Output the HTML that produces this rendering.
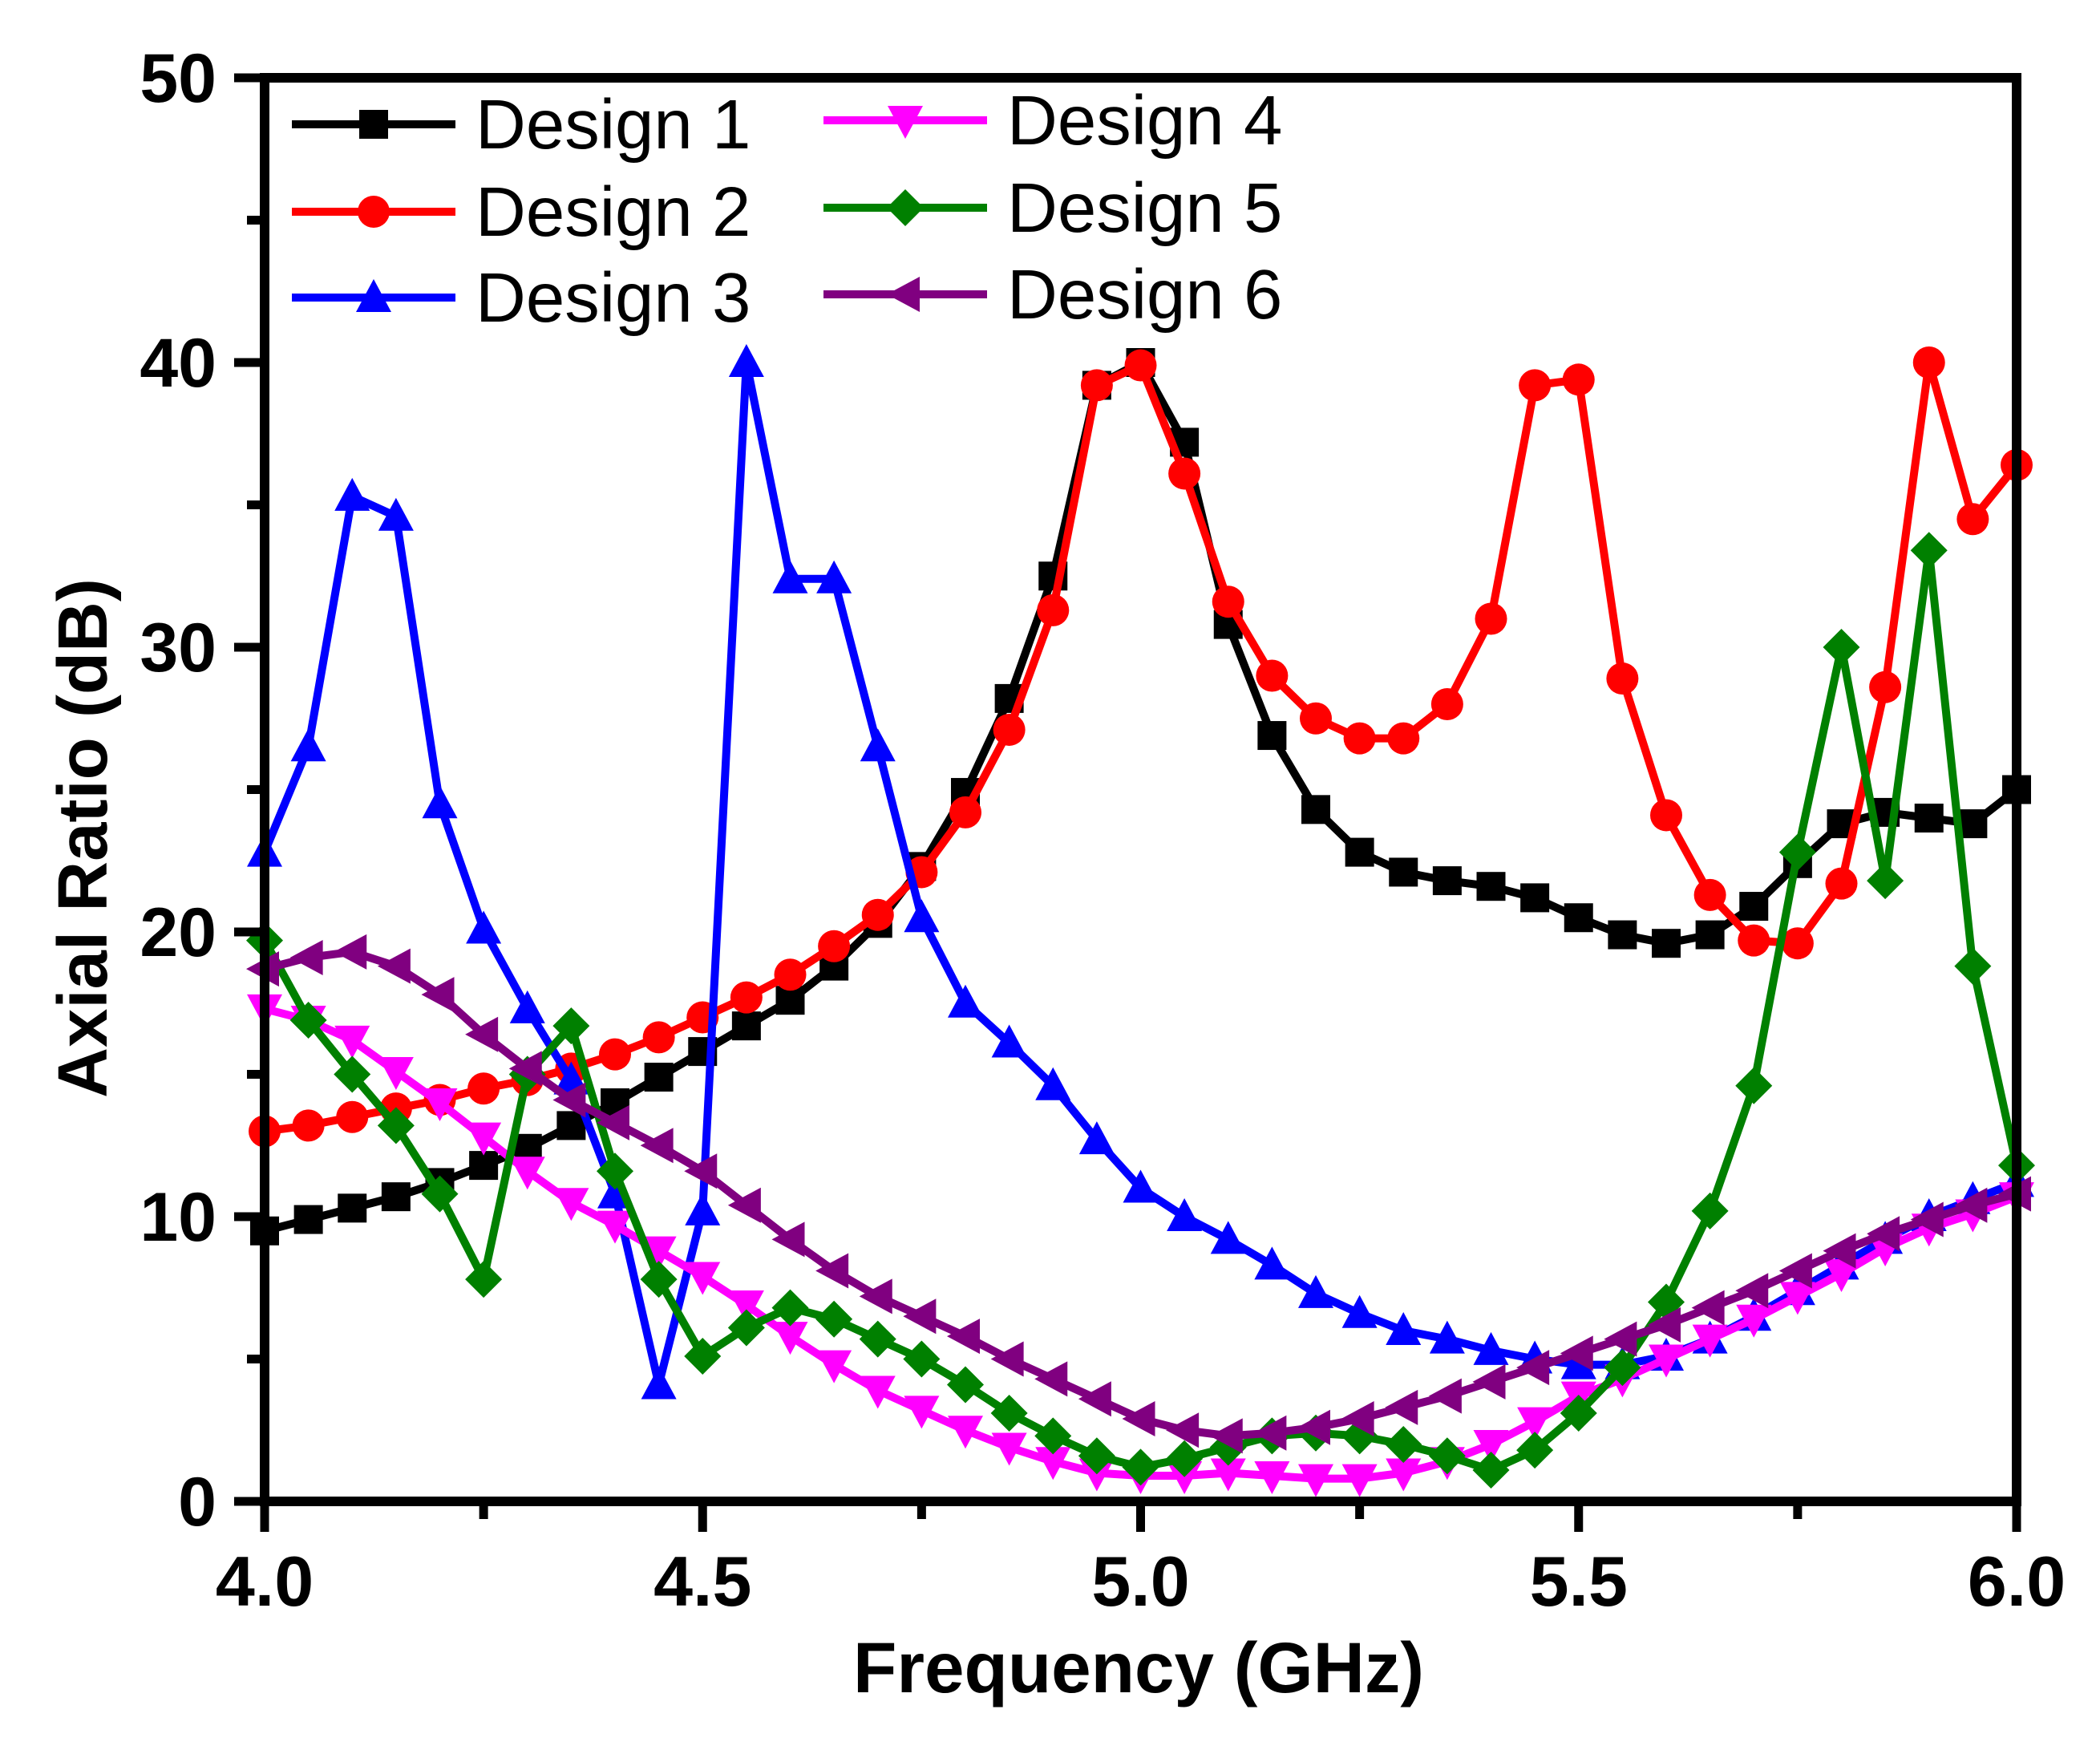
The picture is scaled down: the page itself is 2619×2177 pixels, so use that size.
<!DOCTYPE html>
<html><head><meta charset="utf-8"><style>
html,body{margin:0;padding:0;background:#fff}
svg{display:block}
text{font-family:"Liberation Sans",Arial,sans-serif}
</style></head><body>
<svg id="chart" width="2619" height="2177" viewBox="0 0 2619 2177" xmlns="http://www.w3.org/2000/svg"></svg>
<script>
const freqs=[];for(let i=0;i<=40;i++)freqs.push(+(4+i*0.05).toFixed(2));
const design1=[9.5,9.9,10.3,10.7,11.2,11.8,12.4,13.2,14.0,14.9,15.8,16.7,17.6,18.8,20.3,22.3,24.9,28.2,32.5,39.2,40,37.2,30.8,26.9,24.3,22.8,22.1,21.8,21.6,21.2,20.5,19.9,19.6,19.9,20.9,22.4,23.8,24.2,24.0,23.8,25.0];
const design2=[13.0,13.2,13.5,13.8,14.1,14.5,14.8,15.2,15.7,16.3,17.0,17.7,18.5,19.5,20.6,22.1,24.2,27.1,31.3,39.2,39.9,36.1,31.6,29.0,27.5,26.8,26.8,28.0,31.0,39.2,39.4,28.9,24.1,21.3,19.7,19.6,21.7,28.6,40.0,34.5,36.4];
const design3=[22.8,26.5,35.3,34.6,24.5,20.1,17.3,14.8,10.8,4.1,10.2,40.0,32.4,32.4,26.5,20.5,17.5,16.1,14.6,12.7,11.0,10.0,9.2,8.3,7.3,6.6,6.0,5.7,5.3,5.0,4.8,4.8,5.1,5.7,6.5,7.4,8.3,9.2,10.0,10.6,11.2];
const design4=[17.3,16.9,16.2,15.1,14.0,12.8,11.6,10.5,9.7,8.8,7.9,6.9,5.8,4.8,3.9,3.2,2.5,1.9,1.4,1.0,0.9,0.9,1.0,0.9,0.8,0.8,1.0,1.4,2.0,2.8,3.7,4.3,5.0,5.7,6.4,7.2,8.0,8.9,9.6,10.1,10.7];
const design5=[19.7,16.9,15.0,13.2,10.8,7.8,15.0,16.7,11.6,7.8,5.1,6.1,6.8,6.4,5.7,5.0,4.1,3.1,2.3,1.6,1.2,1.5,1.9,2.3,2.4,2.3,2.0,1.6,1.1,1.8,3.1,4.7,7.0,10.2,14.6,22.8,30.0,21.8,33.4,18.8,11.8];
const design6=[18.7,19.1,19.3,18.8,17.8,16.4,15.2,14.1,13.3,12.5,11.6,10.4,9.2,8.1,7.2,6.5,5.8,5.0,4.3,3.6,2.9,2.5,2.3,2.4,2.6,2.9,3.3,3.7,4.2,4.7,5.2,5.7,6.2,6.8,7.4,8.1,8.8,9.4,9.9,10.4,10.8];
const xTicks=[4.0,4.5,5.0,5.5,6.0];
const xTickLabels=["4.0","4.5","5.0","5.5","6.0"];
const yTicks=[0,10,20,30,40,50];

const NS="http://www.w3.org/2000/svg";
const svg=document.getElementById('chart');
const X0=330,X1=2515,Y0=1872,Y1=97;
const xs=f=>X0+(f-4)/2*(X1-X0);
const ys=v=>Y0-v/50*(Y0-Y1);
function el(t,a,p){const e=document.createElementNS(NS,t);for(const k in a)e.setAttribute(k,a[k]);(p||svg).appendChild(e);return e;}

const series=[
 {name:"Design 1",data:design1,color:"#000000",m:"square"},
 {name:"Design 2",data:design2,color:"#ff0000",m:"circle"},
 {name:"Design 3",data:design3,color:"#0000ff",m:"up"},
 {name:"Design 4",data:design4,color:"#ff00ff",m:"down"},
 {name:"Design 5",data:design5,color:"#008000",m:"diamond"},
 {name:"Design 6",data:design6,color:"#800080",m:"left"}
];
function marker(g,type,cx,cy,c){
 const s=18;let e;
 if(type==="square")e=el('rect',{x:cx-s,y:cy-s,width:2*s,height:2*s,fill:c},g);
 else if(type==="circle")e=el('circle',{cx:cx,cy:cy,r:s+2,fill:c},g);
 else{let pts;
  if(type==="up")pts=[[cx,cy-s-5],[cx+s+4,cy+s],[cx-s-4,cy+s]];
  else if(type==="down")pts=[[cx,cy+s+5],[cx+s+4,cy-s],[cx-s-4,cy-s]];
  else if(type==="diamond")pts=[[cx,cy-s-5],[cx+s+5,cy],[cx,cy+s+5],[cx-s-5,cy]];
  else pts=[[cx-s-5,cy],[cx+s,cy-s-4],[cx+s,cy+s+4]];
  e=el('polygon',{points:pts.map(p=>p.join(',')).join(' '),fill:c},g);}
 
 
}
series.forEach((s,i)=>{
 const g=el('g',{});
 
 
 const pts=s.data.map((v,j)=>xs(freqs[j])+','+ys(v)).join(' ');
 const pl=el('polyline',{points:pts,fill:'none',stroke:s.color,'stroke-width':10,'stroke-linejoin':'round'},g);
 
 
 s.data.forEach((v,j)=>marker(g,s.m,xs(freqs[j]),ys(v),s.color));
});
const frame=el('rect',{x:X0,y:Y1,width:X1-X0,height:Y0-Y1,fill:'none',stroke:'#000','stroke-width':12});


yTicks.forEach(v=>{
 const t=el('line',{x1:X0-38,x2:X0,y1:ys(v),y2:ys(v),stroke:'#000','stroke-width':11});
 
 
 const lb=el('text',{x:270,y:ys(v)+30,'text-anchor':'end','font-size':86,'font-weight':'bold'});
 lb.textContent=String(v);
 
 
 if(v<50){const m=el('line',{x1:X0-22,x2:X0,y1:ys(v+5),y2:ys(v+5),stroke:'#000','stroke-width':11});
 
 }
});
xTicks.forEach((f,i)=>{
 const t=el('line',{x1:xs(f),x2:xs(f),y1:Y0,y2:Y0+38,stroke:'#000','stroke-width':11});
 
 
 const lb=el('text',{x:xs(f),y:2002,'text-anchor':'middle','font-size':88,'font-weight':'bold'});
 lb.textContent=xTickLabels[i];
 
 
 if(i<xTicks.length-1){const m=el('line',{x1:xs(f+0.25),x2:xs(f+0.25),y1:Y0,y2:Y0+22,stroke:'#000','stroke-width':11});
 
 }
});
const xt=el('text',{x:1420,y:2110,'text-anchor':'middle','font-size':89,'font-weight':'bold'});
xt.textContent="Frequency (GHz)";


const yt=el('text',{x:0,y:0,'text-anchor':'middle','font-size':87,'font-weight':'bold',transform:'translate(133,1045) rotate(-90)'});
yt.textContent="Axial Ratio (dB)";


const legPos=[[364,155],[364,264],[364,371],[1027,150],[1027,259],[1027,367]];
series.forEach((s,i)=>{
 const g=el('g',{});
 
 
 const [lx,ly]=legPos[i];
 el('line',{x1:lx,x2:lx+204,y1:ly,y2:ly,stroke:s.color,'stroke-width':10},g);
 marker(g,s.m,lx+102,ly,s.color);
 const tx=el('text',{x:lx+229,y:ly+30,'font-size':87},g);
 tx.textContent=s.name;
});
</script>
</body></html>
